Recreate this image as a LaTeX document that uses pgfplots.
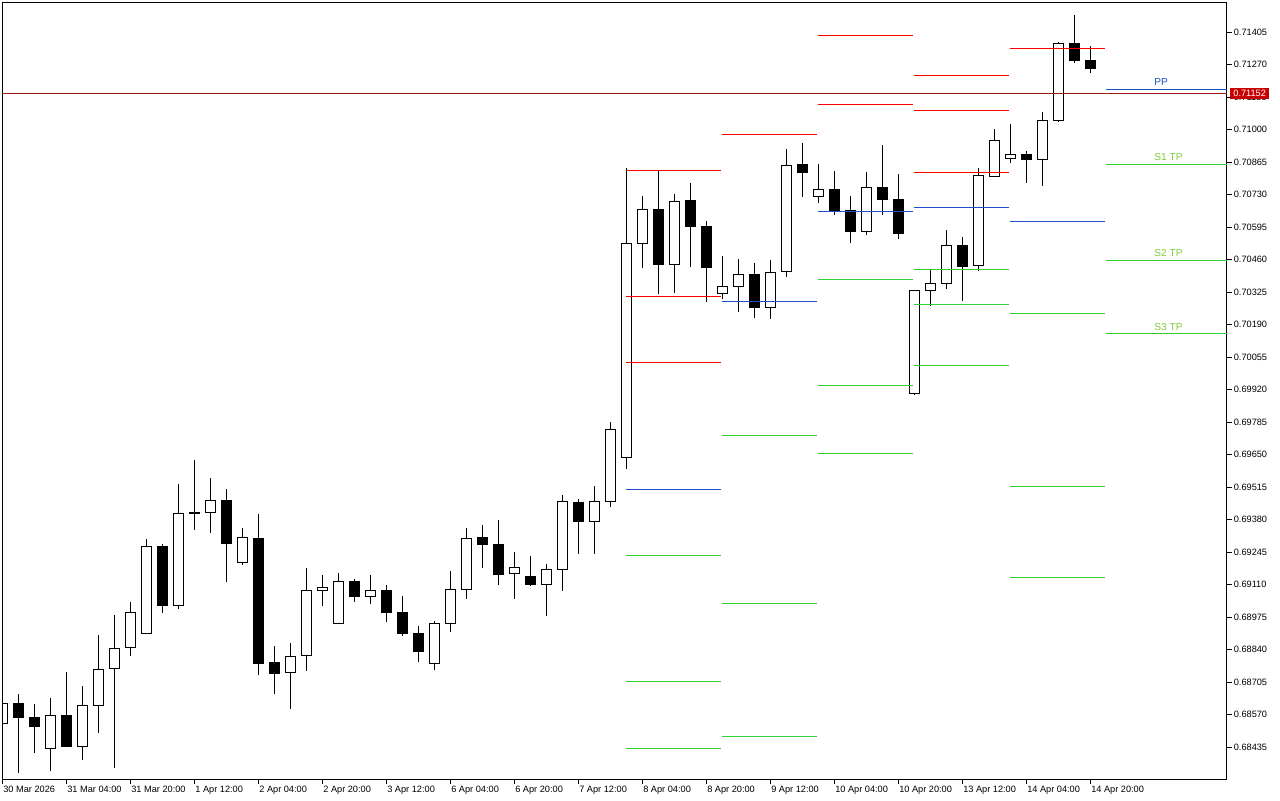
\documentclass[border=0pt]{standalone}
\usepackage{fontspec}
\setmainfont{Liberation Sans}
\usepackage{pgfplots}
\usepackage{pgfplotstable}
\pgfplotsset{compat=1.18}
\definecolor{mtred}{RGB}{255,0,0}
\definecolor{mtblue}{RGB}{30,80,200}
\definecolor{mtgreen}{RGB}{50,205,50}
\definecolor{lblgreen}{RGB}{125,205,55}
\definecolor{bidline}{RGB}{160,25,25}
\definecolor{tagred}{RGB}{200,0,0}

\pgfplotstableread{
i o h l c
0 0.68535 0.68618 0.68535 0.68618
1 0.68618 0.68655 0.68329 0.68560
2 0.68560 0.68615 0.68413 0.68521
3 0.68431 0.68640 0.68338 0.68568
4 0.68568 0.68748 0.68437 0.68437
5 0.68439 0.68690 0.68382 0.68609
6 0.68608 0.68901 0.68496 0.68759
7 0.68761 0.68985 0.68350 0.68846
8 0.68850 0.69039 0.68815 0.68996
9 0.68909 0.69300 0.68904 0.69270
10 0.69270 0.69278 0.68994 0.69023
11 0.69025 0.69529 0.69011 0.69407
12 0.69412 0.69628 0.69338 0.69405
13 0.69411 0.69554 0.69326 0.69461
14 0.69461 0.69507 0.69123 0.69281
15 0.69202 0.69346 0.69193 0.69307
16 0.69303 0.69404 0.68735 0.68782
17 0.68788 0.68856 0.68658 0.68741
18 0.68747 0.68868 0.68595 0.68813
19 0.68815 0.69180 0.68753 0.69087
20 0.69087 0.69151 0.69023 0.69100
21 0.68950 0.69159 0.68950 0.69125
22 0.69125 0.69133 0.69040 0.69061
23 0.69062 0.69151 0.69031 0.69087
24 0.69087 0.69109 0.68957 0.68994
25 0.68996 0.69062 0.68899 0.68907
26 0.68909 0.68938 0.68791 0.68832
27 0.68784 0.68958 0.68757 0.68950
28 0.68950 0.69167 0.68915 0.69091
29 0.69091 0.69345 0.69050 0.69303
30 0.69307 0.69357 0.69181 0.69277
31 0.69278 0.69379 0.69110 0.69152
32 0.69158 0.69245 0.69052 0.69183
33 0.69145 0.69230 0.69106 0.69110
34 0.69112 0.69196 0.68982 0.69174
35 0.69174 0.69482 0.69085 0.69457
36 0.69453 0.69466 0.69239 0.69372
37 0.69372 0.69519 0.69239 0.69457
38 0.69457 0.69785 0.69434 0.69756
39 0.69640 0.70840 0.69590 0.70529
40 0.70529 0.70725 0.70425 0.70670
41 0.70670 0.70830 0.70318 0.70440
42 0.70441 0.70733 0.70323 0.70703
43 0.70707 0.70779 0.70431 0.70597
44 0.70599 0.70621 0.70286 0.70427
45 0.70321 0.70476 0.70296 0.70350
46 0.70350 0.70463 0.70244 0.70400
47 0.70400 0.70447 0.70219 0.70261
48 0.70263 0.70459 0.70215 0.70408
49 0.70412 0.70920 0.70390 0.70853
50 0.70854 0.70945 0.70722 0.70822
51 0.70724 0.70858 0.70697 0.70753
52 0.70753 0.70829 0.70647 0.70664
53 0.70666 0.70725 0.70531 0.70577
54 0.70578 0.70825 0.70564 0.70761
55 0.70761 0.70937 0.70647 0.70710
56 0.70711 0.70816 0.70545 0.70568
57 0.69905 0.70333 0.69900 0.70333
58 0.70333 0.70418 0.70269 0.70362
59 0.70362 0.70584 0.70340 0.70520
60 0.70520 0.70555 0.70290 0.70431
61 0.70437 0.70841 0.70415 0.70811
62 0.70807 0.71003 0.70807 0.70956
63 0.70882 0.71024 0.70863 0.70898
64 0.70898 0.70912 0.70780 0.70876
65 0.70877 0.71074 0.70768 0.71039
66 0.71039 0.71365 0.71034 0.71359
67 0.71359 0.71477 0.71276 0.71287
68 0.71289 0.71348 0.71237 0.71254
}\candles

\pgfplotsset{
  chartbase/.style={
    at={(1.725pt,15.75pt)}, anchor=south west,
    scale only axis, width=918.5pt, height=582.4pt,
    xmin=0, xmax=76.55, ymin=0.683033, ymax=0.715288,
    axis line style={black, line width=0.75pt},
  },
  lvl/.style={line width=0.75pt, mark=none, forget plot},
}

\begin{document}
\begin{tikzpicture}[x=1pt,y=1pt]
\path[use as bounding box] (0,0) rectangle (960,600);

% frame, ticks and wicks
\begin{axis}[chartbase,
  tick align=outside, major tick length=3.75pt,
  tick style={black, line width=0.75pt},
  xtick pos=bottom, ytick pos=right, yticklabel pos=right,
  xtick={0,4,...,68},
  xticklabels={30 Mar 2026,31 Mar 04:00,31 Mar 20:00,1 Apr 12:00,2 Apr 04:00,2 Apr 20:00,3 Apr 12:00,6 Apr 04:00,6 Apr 20:00,7 Apr 12:00,8 Apr 04:00,8 Apr 20:00,9 Apr 12:00,10 Apr 04:00,10 Apr 20:00,13 Apr 12:00,14 Apr 04:00,14 Apr 20:00},
  ytick={0.68435,0.68570,0.68705,0.68840,0.68975,0.69110,0.69245,0.69380,0.69515,0.69650,0.69785,0.69920,0.70055,0.70190,0.70325,0.70460,0.70595,0.70730,0.70865,0.71000,0.71135,0.71270,0.71405},
  yticklabels={0.68435,0.68570,0.68705,0.68840,0.68975,0.69110,0.69245,0.69380,0.69515,0.69650,0.69785,0.69920,0.70055,0.70190,0.70325,0.70460,0.70595,0.70730,0.70865,0.71000,0.71135,0.71270,0.71405},
  ticklabel style={font=\fontsize{6.9}{8}\selectfont, text=black},
  xticklabel style={anchor=north west, inner sep=0pt, xshift=0.6pt, yshift=-1.5pt},
  yticklabel style={anchor=west, inner sep=0pt, xshift=1.2pt},
]
\addplot[draw=none, mark=none, forget plot,
  error bars/.cd, y dir=plus, y explicit, error mark=none,
  error bar style={draw=black, solid, line width=0.75pt}]
  table[x=i, y=l, y error expr=\thisrow{h}-\thisrow{l}] {\candles};
\end{axis}

% candle bodies
\begin{axis}[chartbase, hide axis, ybar stacked, bar width=7.5pt]
\addplot[draw=none, fill=none] table[x=i, y expr={min(\thisrow{o},\thisrow{c})}] {\candles};
\addplot[draw=black, fill=white, line width=0.75pt] table[x=i, y expr={max(\thisrow{c}-\thisrow{o},0)}] {\candles};
\addplot[draw=black, fill=black, line width=0.75pt] table[x=i, y expr={max(\thisrow{o}-\thisrow{c},0)}] {\candles};
\end{axis}

% pivot levels, bid line, frame on top
\begin{axis}[chartbase, xtick=\empty, ytick=\empty, unbounded coords=jump]
\addplot[lvl, bidline] coordinates {(0,0.71152) (76.55,0.71152)};
\addplot[lvl, mtred] coordinates {
 (39,0.70832) (44.94,0.70832) (39,nan)
 (39,0.70308) (44.94,0.70308) (39,nan)
 (39,0.70034) (44.94,0.70034) (39,nan)
 (45,0.70981) (50.94,0.70981) (45,nan)
 (51,0.71390) (56.94,0.71390) (51,nan)
 (51,0.71106) (56.94,0.71106) (51,nan)
 (57,0.71226) (62.94,0.71226) (57,nan)
 (57,0.71081) (62.94,0.71081) (57,nan)
 (57,0.70823) (62.94,0.70823) (57,nan)
 (63,0.71339) (68.94,0.71339)};
\addplot[lvl, mtblue] coordinates {
 (39,0.69507) (44.94,0.69507) (39,nan)
 (45,0.70288) (50.94,0.70288) (45,nan)
 (51,0.70661) (56.94,0.70661) (51,nan)
 (57,0.70678) (62.94,0.70678) (57,nan)
 (63,0.70620) (68.94,0.70620) (63,nan)
 (69,0.71168) (76.55,0.71168)};
\addplot[lvl, mtgreen] coordinates {
 (39,0.69233) (44.94,0.69233) (39,nan)
 (39,0.68709) (44.94,0.68709) (39,nan)
 (39,0.68431) (44.94,0.68431) (39,nan)
 (45,0.69731) (50.94,0.69731) (45,nan)
 (45,0.69033) (50.94,0.69033) (45,nan)
 (45,0.68481) (50.94,0.68481) (45,nan)
 (51,0.70379) (56.94,0.70379) (51,nan)
 (51,0.69939) (56.94,0.69939) (51,nan)
 (51,0.69656) (56.94,0.69656) (51,nan)
 (57,0.70421) (62.94,0.70421) (57,nan)
 (57,0.70275) (62.94,0.70275) (57,nan)
 (57,0.70022) (62.94,0.70022) (57,nan)
 (63,0.70238) (68.94,0.70238) (63,nan)
 (63,0.69520) (68.94,0.69520) (63,nan)
 (63,0.69142) (68.94,0.69142) (63,nan)
 (69,0.70857) (76.55,0.70857) (69,nan)
 (69,0.70459) (76.55,0.70459) (69,nan)
 (69,0.70152) (76.55,0.70152)};
\node[anchor=base west, inner sep=0pt, text=mtblue, font=\fontsize{7.6}{9}\selectfont, yshift=2.5pt] at (axis cs:72,0.71168) {PP};
\node[anchor=base west, inner sep=0pt, text=lblgreen, font=\fontsize{7.6}{9}\selectfont, yshift=2.5pt] at (axis cs:72,0.70857) {S1 TP};
\node[anchor=base west, inner sep=0pt, text=lblgreen, font=\fontsize{7.6}{9}\selectfont, yshift=2.5pt] at (axis cs:72,0.70459) {S2 TP};
\node[anchor=base west, inner sep=0pt, text=lblgreen, font=\fontsize{7.6}{9}\selectfont, yshift=2.5pt] at (axis cs:72,0.70152) {S3 TP};
\coordinate (bid) at (axis cs:76.55,0.71152);
\end{axis}

\node[fill=tagred, text=white, anchor=west, inner xsep=2.4pt, inner ysep=1.6pt,
  text height=5pt, text depth=0pt, font=\fontsize{6.9}{8}\selectfont]
  at ([xshift=2.2pt]bid) {0.71152};
\end{tikzpicture}
\end{document}
